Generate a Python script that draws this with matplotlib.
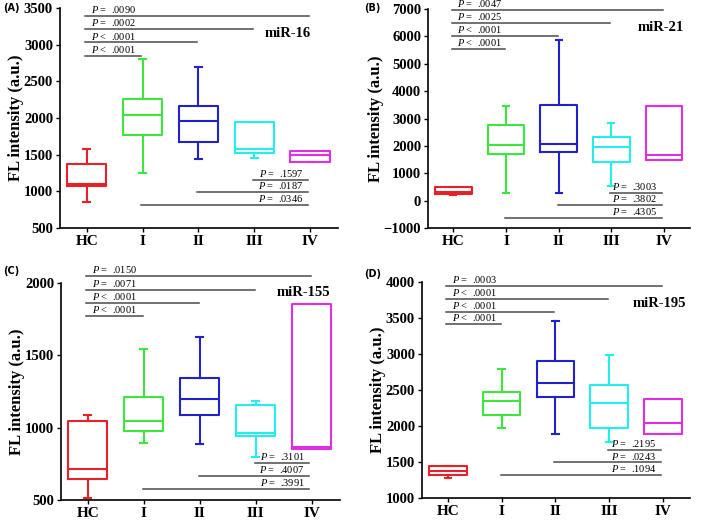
import matplotlib
matplotlib.use("Agg")
import matplotlib.pyplot as plt

plt.rcParams['font.family'] = ['Liberation Serif', 'DejaVu Serif']
plt.rcParams['mathtext.fontset'] = 'custom'
plt.rcParams['mathtext.it'] = 'Liberation Serif:italic'
plt.rcParams['mathtext.rm'] = 'Liberation Serif'

groups = ['HC', 'I', 'II', 'III', 'IV']
colors = ['#e8202a', '#3ce63c', '#2222cc', '#22eeee', '#e22ee2']

# box stats: whisker low, Q1, median, Q3, whisker high
a_lo = [860, 1245, 1443, 1458, 1406]
a_q1 = [1070, 1766, 1675, 1529, 1406]
a_med = [1103, 2047, 1958, 1580, 1502]
a_q3 = [1372, 2262, 2162, 1950, 1552]
a_hi = [1572, 2799, 2699, 1950, 1552]

b_lo = [190, 280, 268, 524, 1476]
b_q1 = [256, 1720, 1780, 1427, 1476]
b_med = [300, 2024, 2061, 1963, 1659]
b_q3 = [500, 2756, 3500, 2341, 3451]
b_hi = [500, 3451, 5854, 2841, 3451]

c_lo = [512, 896, 884, 799, 854]
c_q1 = [645, 974, 1089, 944, 854]
c_med = [714, 1045, 1197, 960, 866]
c_q3 = [1048, 1213, 1342, 1156, 1857]
c_hi = [1091, 1542, 1625, 1186, 1857]

d_lo = [1280, 1970, 1891, 1785, 1891]
d_q1 = [1323, 2150, 2403, 1979, 1891]
d_med = [1379, 2343, 2592, 2316, 2043]
d_q3 = [1448, 2468, 2906, 2574, 2380]
d_hi = [1448, 2800, 3455, 2994, 2380]

# p-value bars: HC vs I, II, III, IV (top) and I, II, III vs IV (bottom)
a_top_y = [2849, 3031, 3213, 3395]
a_top_p = ['<  .0001', '<  .0001', '=  .0002', '=  .0090']
a_bot_y = [1161, 988, 810]
a_bot_p = ['=  .1597', '=  .0187', '=  .0346']

b_top_y = [5537, 6024, 6488, 6976]
b_top_p = ['<  .0001', '<  .0001', '=  .0025', '=  .0047']
b_bot_y = [280, -171, -646]
b_bot_p = ['=  .3003', '=  .3802', '=  .4305']

c_top_y = [1772, 1864, 1956, 2048]
c_top_p = ['<  .0001', '<  .0001', '=  .0071', '=  .0150']
c_bot_y = [758, 666, 576]
c_bot_p = ['=  .3101', '=  .4007', '=  .3991']

d_top_y = [3414, 3589, 3769, 3954]
d_top_p = ['<  .0001', '<  .0001', '<  .0001', '=  .0003']
d_bot_y = [1674, 1494, 1319]
d_bot_p = ['=  .2195', '=  .0243', '=  .1094']


def panel(ax, lo, q1, med, q3, hi, top_y, top_p, bot_y, bot_p,
          yticks, ylim, title, tpos, letter, lpos):
    stats = []
    for i in range(5):
        stats.append(dict(whislo=lo[i], q1=q1[i], med=med[i], q3=q3[i],
                          whishi=hi[i], fliers=[]))
    bp = ax.bxp(stats, positions=range(5), widths=0.7, capwidths=0.12,
                showfliers=False, patch_artist=False)
    for i, c in enumerate(colors):
        bp['boxes'][i].set(color=c, linewidth=1.5)
        bp['medians'][i].set(color=c, linewidth=1.5)
        for k in (2 * i, 2 * i + 1):
            bp['whiskers'][k].set(color=c, linewidth=1.5)
            bp['caps'][k].set(color=c, linewidth=1.5)

    off = (ylim[1] - ylim[0]) * 0.004
    for k in range(4):
        y = top_y[k]
        ax.plot([-0.03, k + 0.98], [y, y], color='#4a4a4a', lw=1.1,
                clip_on=False)
        ax.text(0.07, y + off, r'$\it{P}$ ' + top_p[k],
                fontsize=7.5, ha='left', va='bottom', clip_on=False)
    for k in range(3):
        y = bot_y[k]
        ax.plot([3 - k - 0.02, 3.96], [y, y], color='#4a4a4a', lw=1.1)
        ax.text(3.87, y + off, r'$\it{P}$ ' + bot_p[k],
                fontsize=7.5, ha='right', va='bottom')

    ax.set_xlim(-0.48, 4.5)
    ax.set_ylim(ylim)
    ax.set_yticks(yticks)
    ax.set_xticks(range(5))
    ax.set_xticklabels(groups, fontsize=11, fontweight='bold')
    for t in ax.get_yticklabels():
        t.set_fontsize(10.5)
        t.set_fontweight('bold')
    ax.spines['top'].set_visible(False)
    ax.spines['right'].set_visible(False)
    ax.spines['left'].set_linewidth(1.2)
    ax.spines['bottom'].set_linewidth(1.2)
    ax.tick_params(direction='out', length=3, width=1.0, pad=2)
    ax.set_ylabel('FL intensity (a.u.)', fontsize=12, fontweight='bold',
                  labelpad=0)
    ax.text(tpos[0], tpos[1], title, transform=ax.transAxes, fontsize=10.5,
            fontweight='bold', ha='center', va='center')
    ax.text(lpos[0], lpos[1], letter, transform=ax.figure.transFigure,
            fontsize=7, fontweight='bold', family='DejaVu Sans',
            ha='left', va='center')


fig = plt.figure(figsize=(7.09, 5.20), dpi=100)
ax1 = fig.add_axes([0.0846, 0.5615, 0.392, 0.423])
ax2 = fig.add_axes([0.6037, 0.5615, 0.370, 0.421])
ax3 = fig.add_axes([0.0860, 0.0385, 0.393, 0.417])
ax4 = fig.add_axes([0.5952, 0.0423, 0.378, 0.415])

panel(ax1, a_lo, a_q1, a_med, a_q3, a_hi, a_top_y, a_top_p, a_bot_y, a_bot_p,
      range(500, 3501, 500), (500, 3500), 'miR-16', (0.82, 0.886), '(A)',
      (0.004, 0.985))
panel(ax2, b_lo, b_q1, b_med, b_q3, b_hi, b_top_y, b_top_p, b_bot_y, b_bot_p,
      range(-1000, 7001, 1000), (-1000, 7000), 'miR-21', (0.886, 0.918), '(B)',
      (0.513, 0.985))
panel(ax3, c_lo, c_q1, c_med, c_q3, c_hi, c_top_y, c_top_p, c_bot_y, c_bot_p,
      range(500, 2001, 500), (500, 2000), 'miR-155', (0.87, 0.958), '(C)',
      (0.004, 0.478))
panel(ax4, d_lo, d_q1, d_med, d_q3, d_hi, d_top_y, d_top_p, d_bot_y, d_bot_p,
      range(1000, 4001, 500), (1000, 4000), 'miR-195', (0.884, 0.90), '(D)',
      (0.513, 0.473))

fig.savefig('out.png', dpi=100)
